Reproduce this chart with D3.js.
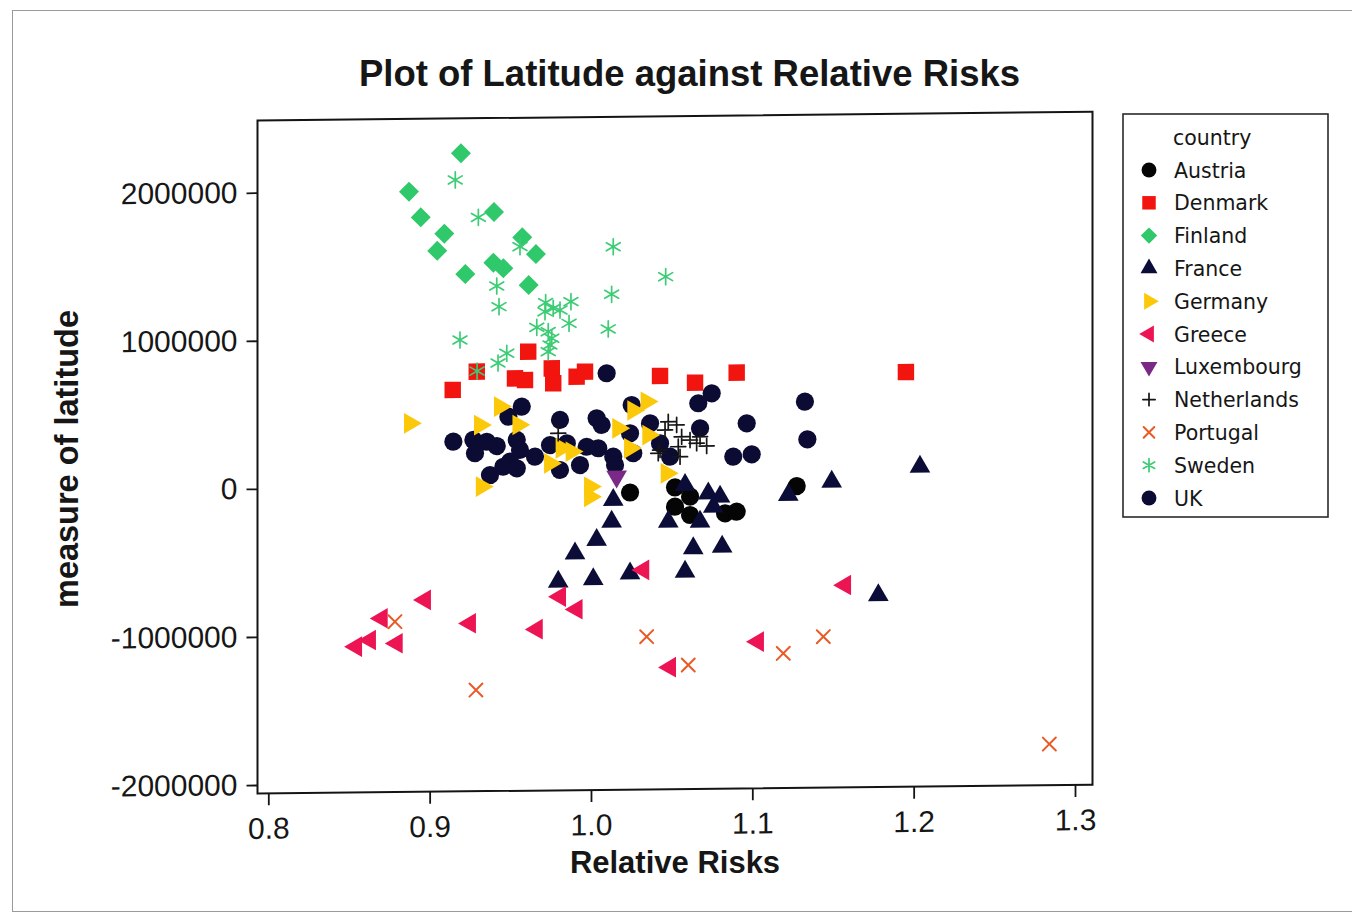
<!DOCTYPE html>
<html>
<head>
<meta charset="utf-8">
<script src="https://cdn.jsdelivr.net/npm/d3@7"></script>
<style>
  html, body { margin: 0; padding: 0; background: #ffffff; }
  svg { display: block; }
</style>
</head>
<body>
<svg id="chart" width="1352" height="917"></svg>
<script>
// ---- data: [relative risk, measure of latitude] per country ----
const countries = ["Austria", "Denmark", "Finland", "France", "Germany", "Greece",
                   "Luxembourg", "Netherlands", "Portugal", "Sweden", "UK"];

const austria = [[1.0242,-51000],[1.0521,-20000],[1.0521,-150000],[1.0614,-83000],
  [1.0614,-207000],[1.0831,-198000],[1.0903,-188000],[1.1275,-19000]];

const denmark = [[0.9143,654000],[0.9292,776000],[0.9611,907000],[0.9529,728000],
  [0.9591,716000],[0.9757,793000],[0.9766,692000],[0.9911,735000],[0.9963,768000],
  [1.0428,734000],[1.0645,686000],[1.0903,751000],[1.1952,743000]];

const finland = [[0.9194,2252000],[0.8872,1996000],[0.8945,1822000],[0.9399,1853000],
  [0.9091,1710000],[0.9047,1595000],[0.9574,1680000],[0.9659,1566000],[0.9221,1436000],
  [0.9395,1511000],[0.9457,1472000],[0.9614,1357000]];

const france = [[1.0138,-100000],[1.0128,-247000],[1.0035,-369000],[0.9901,-458000],
  [0.9797,-648000],[1.0014,-634000],[1.0242,-597000],[1.0634,-432000],[1.0583,-590000],
  [1.0813,-423000],[1.0479,-251000],[1.0676,-253000],[1.0758,-153000],[1.0727,-62000],
  [1.0800,-86000],[1.0583,-4000],[1.1223,-79000],[1.1492,8000],[1.2039,103000],
  [1.1781,-761000]];

const germany = [[0.8878,432000],[0.9436,538000],[0.9312,415000],[0.9550,413000],
  [0.9323,-1000],[0.9818,252000],[0.9880,229000],[0.9746,152000],[0.9994,-9000],
  [0.9994,-77000],[1.0169,383000],[1.0345,561000],[1.0262,503000],[1.0242,248000],
  [1.0355,336000],[1.0469,76000]];

const greece = [[0.8544,-1073000],[0.8630,-1029000],[0.8703,-883000],[0.8796,-1053000],
  [0.8971,-762000],[0.9250,-923000],[0.9664,-968000],[0.9808,-750000],[0.9911,-836000],
  [1.0324,-575000],[1.0490,-1234000],[1.1035,-1067000],[1.1575,-691000]];

const luxembourg = [[1.0159,57000]];

const netherlands = [[1.0479,424000],[1.0531,402000],[1.0562,322000],[1.0614,299000],
  [1.0655,277000],[1.0541,255000],[1.0417,212000],[1.0459,369000],[1.0676,321000],
  [1.0717,258000],[1.0552,187000],[0.9797,354000],[1.0428,234000]];

const portugal = [[0.8785,-907000],[0.9287,-1374000],[1.0345,-1026000],[1.0603,-1220000],
  [1.1192,-1148000],[1.1440,-1038000],[1.2841,-1779000]];

const sweden = [[0.9159,2072000],[0.9302,1818000],[0.9560,1617000],[1.0138,1610000],
  [1.0463,1404000],[0.9416,1353000],[1.0128,1289000],[0.9430,1213000],[0.9719,1237000],
  [0.9766,1198000],[0.9876,1242000],[0.9715,1176000],[0.9808,1186000],[0.9864,1096000],
  [0.9664,1071000],[0.9735,1041000],[0.9757,996000],[1.0107,1055000],[0.9188,991000],
  [0.9746,951000],[0.9478,898000],[0.9735,906000],[0.9424,833000],[0.9294,780000]];

const uk = [[1.0097,756000],[0.9571,536000],[0.9488,470000],[0.9808,444000],[1.0035,453000],
  [1.0066,407000],[1.0252,540000],[1.0366,415000],[0.9147,305000],[0.9271,315000],
  [0.9354,302000],[0.9416,272000],[0.9281,225000],[0.9540,312000],[0.9560,244000],
  [0.9653,198000],[0.9746,275000],[0.9850,286000],[0.9973,261000],[1.0045,250000],
  [0.9498,166000],[0.9457,132000],[0.9540,120000],[0.9808,106000],[0.9932,138000],
  [1.0138,192000],[1.0149,136000],[1.0262,214000],[1.0242,349000],[1.0428,279000],
  [1.0490,188000],[0.9374,77000],[1.0748,613000],[1.0665,547000],[1.0676,378000],
  [1.0965,408000],[1.1326,550000],[1.1341,296000],[1.0882,184000],[1.0996,198000]];

const xTicks = [0.8, 0.9, 1.0, 1.1, 1.2, 1.3];
const yTicks = [-2000000, -1000000, 0, 1000000, 2000000];

const seriesByCountry = {
  Austria: austria, Denmark: denmark, Finland: finland, France: france, Germany: germany,
  Greece: greece, Luxembourg: luxembourg, Netherlands: netherlands, Portugal: portugal,
  Sweden: sweden, UK: uk
};

// ---- marker styles ----
const styles = {
  Austria:     { kind: "circle",   color: "#050505" },
  Denmark:     { kind: "square",   color: "#f2140f" },
  Finland:     { kind: "diamond",  color: "#2fc86a" },
  France:      { kind: "triangle", color: "#0c0c38", rot: 0 },
  Germany:     { kind: "triangle", color: "#fcc80a", rot: 90 },
  Greece:      { kind: "triangle", color: "#ec1452", rot: -90 },
  Luxembourg:  { kind: "triangle", color: "#7a2a86", rot: 180 },
  Netherlands: { kind: "plus",     color: "#151515" },
  Portugal:    { kind: "cross",    color: "#e85a26" },
  Sweden:      { kind: "asterisk", color: "#3ccc74" },
  UK:          { kind: "circle",   color: "#0b0b33" }
};

// draw order inside the plot
const drawOrder = ["Austria", "UK", "Denmark", "Finland", "France", "Germany", "Greece",
                   "Luxembourg", "Netherlands", "Portugal", "Sweden"];

function markerPath(kind, k) {
  switch (kind) {
    case "circle":   return d3.symbol(d3.symbolCircle, 260 * k * k)();
    case "square":   return d3.symbol(d3.symbolSquare, 270 * k * k)();
    case "diamond":  return d3.symbol(d3.symbolSquare, 200 * k * k)();
    case "triangle": return d3.symbol(d3.symbolTriangle, 185 * k * k)();
    case "plus": {
      const r = 7.5 * k;
      return `M${-r},0L${r},0M0,${-r}L0,${r}`;
    }
    case "cross": {
      const r = 6.5 * k;
      return `M${-r},${-r}L${r},${r}M${-r},${r}L${r},${-r}`;
    }
    case "asterisk": {
      const r = 8 * k;
      let p = "";
      for (let i = 0; i < 3; i++) {
        const a = Math.PI / 2 + i * Math.PI / 3;
        const dx = r * Math.cos(a), dy = r * Math.sin(a);
        p += `M${-dx.toFixed(2)},${-dy.toFixed(2)}L${dx.toFixed(2)},${dy.toFixed(2)}`;
      }
      return p;
    }
  }
}

function markerRotation(st) {
  if (st.kind === "diamond") return 45;
  if (st.kind === "triangle") return st.rot;
  return 0;
}

function applyMarker(sel, st) {
  const stroked = ["plus", "cross", "asterisk"].includes(st.kind);
  if (stroked) {
    sel.attr("fill", "none").attr("stroke", st.color)
       .attr("stroke-width", st.kind === "cross" ? 2 : 1.7)
       .attr("stroke-linecap", "round");
  } else {
    sel.attr("fill", st.color).attr("stroke", "none");
  }
}

// ---- layout ----
const svg = d3.select("#chart");
const frame = { left: 257.5, right: 1092.5, top: 120.5, bottom: 793.5 };

const x = d3.scaleLinear().domain([0.8, 1.3]).range([268.3, 1075]);
const y = d3.scaleLinear().domain([-2000000, 2000000]).range([785, 192.7]);

const tickFont = "'Liberation Sans', Arial, sans-serif";
const textColor = "#161616";

// outer graph border
svg.append("rect")
  .attr("x", 12.5).attr("y", 10.5).attr("width", 1345).attr("height", 901)
  .attr("fill", "none").attr("stroke", "#9a9a9a").attr("stroke-width", 1);

// plot region (slight slant of the printed page)
const plot = svg.append("g")
  .attr("transform", "matrix(1,-0.0104,0,1,0,2.66)");

plot.append("rect")
  .attr("x", frame.left).attr("y", frame.top)
  .attr("width", frame.right - frame.left).attr("height", frame.bottom - frame.top)
  .attr("fill", "#ffffff").attr("stroke", "#141414").attr("stroke-width", 2);

const xAxis = plot.append("g")
  .attr("transform", `translate(0,${frame.bottom})`)
  .call(d3.axisBottom(x).tickValues(xTicks).tickFormat(d3.format(".1f"))
        .tickSize(12).tickPadding(12));
const yAxis = plot.append("g")
  .attr("transform", `translate(${frame.left},0)`)
  .call(d3.axisLeft(y).tickValues(yTicks).tickFormat(d => String(d))
        .tickSize(11).tickPadding(9));

[xAxis, yAxis].forEach(ax => {
  ax.select(".domain").remove();
  ax.selectAll("line").attr("stroke", "#141414").attr("stroke-width", 1.8);
  ax.selectAll("text").attr("fill", textColor)
    .style("font-family", tickFont).style("font-size", "30px");
});

// points
drawOrder.forEach(name => {
  const st = styles[name];
  const g = plot.append("g").attr("class", "series-" + name);
  const pts = g.selectAll("path").data(seriesByCountry[name]).join("path")
    .attr("d", markerPath(st.kind, 1))
    .attr("transform", d => `translate(${x(d[0])},${y(d[1])}) rotate(${markerRotation(st)})`);
  applyMarker(pts, st);
});

// title
svg.append("text")
  .attr("x", 689.5).attr("y", 86)
  .attr("text-anchor", "middle")
  .attr("fill", textColor)
  .style("font-family", tickFont).style("font-weight", "bold").style("font-size", "36.5px")
  .text("Plot of Latitude against Relative Risks");

// axis titles
svg.append("text")
  .attr("x", 675).attr("y", 873)
  .attr("text-anchor", "middle")
  .attr("fill", textColor)
  .style("font-family", tickFont).style("font-weight", "bold").style("font-size", "31px")
  .text("Relative Risks");

svg.append("text")
  .attr("transform", "translate(78,459) rotate(-90)")
  .attr("text-anchor", "middle")
  .attr("fill", textColor)
  .style("font-family", tickFont).style("font-weight", "bold").style("font-size", "32.5px")
  .text("measure of latitude");

// legend
const legendFont = "'DejaVu Sans', Verdana, sans-serif";
const legend = svg.append("g");
legend.append("rect")
  .attr("x", 1123).attr("y", 114).attr("width", 205).attr("height", 403)
  .attr("fill", "#ffffff").attr("stroke", "#2a2a2a").attr("stroke-width", 1.6);
legend.append("text")
  .attr("x", 1173).attr("y", 145)
  .attr("fill", textColor)
  .style("font-family", legendFont).style("font-size", "20.5px")
  .text("country");

countries.forEach((name, i) => {
  const st = styles[name];
  const cy = 170 + i * 32.8;
  const m = legend.append("path")
    .attr("d", markerPath(st.kind, 0.82))
    .attr("transform", `translate(1149,${cy}) rotate(${markerRotation(st)})`);
  applyMarker(m, st);
  legend.append("text")
    .attr("x", 1174).attr("y", cy + 7.5)
    .attr("fill", textColor)
    .style("font-family", legendFont).style("font-size", "20.5px")
    .text(name);
});
</script>
</body>
</html>
